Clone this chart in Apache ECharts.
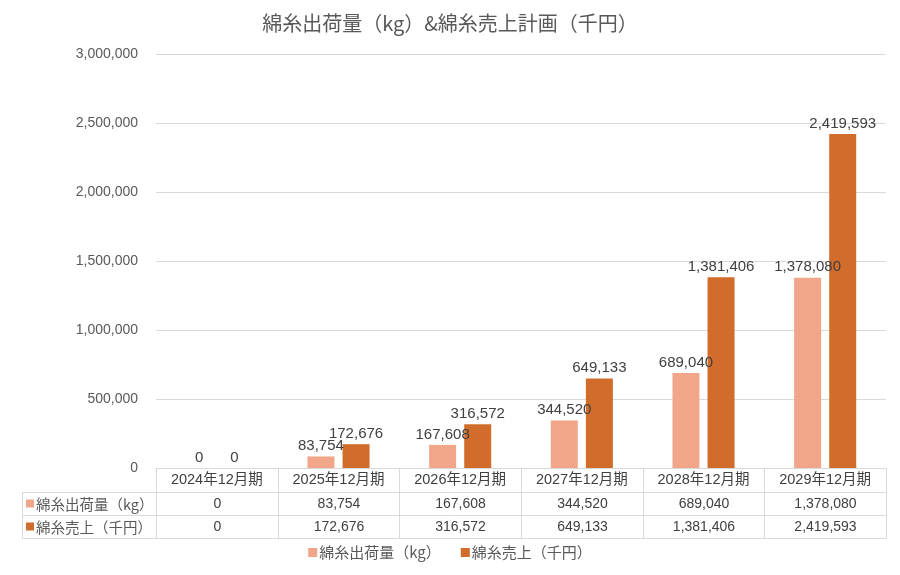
<!DOCTYPE html>
<html><head><meta charset="utf-8">
<script src="https://cdn.jsdelivr.net/npm/echarts@6/dist/echarts.min.js"></script>
<style>html,body{margin:0;padding:0;background:#fff}#c{width:900px;height:575px}</style>
</head><body><div id="c"></div>
<script>
const categories = ['2024年12月期','2025年12月期','2026年12月期','2027年12月期','2028年12月期','2029年12月期'];
const seriesNames = ['綿糸出荷量（kg）','綿糸売上（千円）'];
const shipment = [0, 83754, 167608, 344520, 689040, 1378080];
const sales = [0, 172676, 316572, 649133, 1381406, 2419593];
const yTicks = [0, 500000, 1000000, 1500000, 2000000, 2500000, 3000000];
const titleText = '綿糸出荷量（kg）&綿糸売上計画（千円）';

const colors = ['#F1A68A', '#D26C2A'];
const FONT = '"Liberation Sans", "Noto Sans CJK JP", sans-serif';
const fmt = v => Number(v).toLocaleString('en-US');

const chart = echarts.init(document.getElementById('c'), null, {renderer: 'canvas'});
const option = {
  animation: false,
  backgroundColor: '#fff',
  textStyle: {fontFamily: FONT},
  title: {text: titleText, left: 'center', top: 8,
    textStyle: {fontFamily: '"Noto Sans CJK JP", sans-serif', fontSize: 20, fontWeight: 'normal', color: '#595959'}},
  legend: {bottom: 10, left: 'center', itemWidth: 9, itemHeight: 9, itemGap: 20, icon: 'rect',
    textStyle: {fontFamily: '"Noto Sans CJK JP", sans-serif', fontSize: 15, color: '#595959', padding: [0, 0, 0, -3]}, data: seriesNames},
  grid: {left: 156, right: 14, top: 54, bottom: 107, containLabel: false},
  xAxis: {type: 'category', data: categories,
    axisLine: {show: true, lineStyle: {color: '#D9D9D9'}},
    axisTick: {show: false},
    axisLabel: {margin: 5, fontSize: 14.5, color: '#404040', fontFamily: FONT}},
  yAxis: {type: 'value', min: 0, max: yTicks[yTicks.length-1], interval: yTicks[1]-yTicks[0],
    axisLine: {show: false}, axisTick: {show: false},
    splitLine: {lineStyle: {color: '#D9D9D9'}},
    axisLabel: {margin: 18, fontSize: 14, color: '#595959', formatter: fmt}},
  series: [
    {name: seriesNames[0], type: 'bar', data: shipment, barWidth: 27, barGap: '30%',
      itemStyle: {color: colors[0]},
      label: {show: true, position: 'top', distance: 3, fontSize: 15, color: '#404040', formatter: p => fmt(p.value)}},
    {name: seriesNames[1], type: 'bar', data: sales, barWidth: 27,
      itemStyle: {color: colors[1]},
      label: {show: true, position: 'top', distance: 3, fontSize: 15, color: '#404040', formatter: p => fmt(p.value)}}
  ]
};
chart.setOption(option);

// data table below the plot, positioned from the axes
function drawTable() {
  const n = categories.length;
  const c0 = chart.convertToPixel({xAxisIndex: 0}, 0);
  const c1 = chart.convertToPixel({xAxisIndex: 0}, 1);
  const step = c1 - c0;
  const xs = [];
  for (let i = 0; i <= n; i++) xs.push(Math.round(c0 - step/2 + i*step) + 0.5);
  const y0 = Math.round(chart.convertToPixel({yAxisIndex: 0}, 0)) + 0.5;
  const y1 = y0 + 24, y2 = y1 + 23, y3 = y2 + 23;
  const tableLeft = 22.5;
  const lineStyle = {stroke: '#D9D9D9', lineWidth: 1};
  const els = [];
  xs.forEach(x => els.push({type: 'line', shape: {x1: x, y1: y0, x2: x, y2: y3}, style: lineStyle, silent: true}));
  els.push({type: 'line', shape: {x1: tableLeft, y1: y1, x2: tableLeft, y2: y3}, style: lineStyle});
  [y1, y2, y3].forEach(y => els.push({type: 'line', shape: {x1: tableLeft, y1: y, x2: xs[n], y2: y}, style: lineStyle}));
  const rows = [shipment, sales];
  const ys = [(y1+y2)/2, (y2+y3)/2];
  rows.forEach((arr, r) => {
    els.push({type: 'rect', shape: {x: 26, y: ys[r]-4.5, width: 8, height: 8}, style: {fill: colors[r]}});
    els.push({type: 'text', x: 36, y: ys[r], style: {text: seriesNames[r], fill: '#595959',
      font: '14.5px "Noto Sans CJK JP", sans-serif', textVerticalAlign: 'middle', verticalAlign: 'middle'}});
    arr.forEach((v, i) => {
      els.push({type: 'text', x: (xs[i]+xs[i+1])/2, y: ys[r], style: {text: fmt(v), fill: '#404040',
        font: '14px ' + FONT, align: 'center', verticalAlign: 'middle', textAlign: 'center', textVerticalAlign: 'middle'}});
    });
  });
  chart.setOption({graphic: {elements: els}});
}
drawTable();
</script>
</body></html>
